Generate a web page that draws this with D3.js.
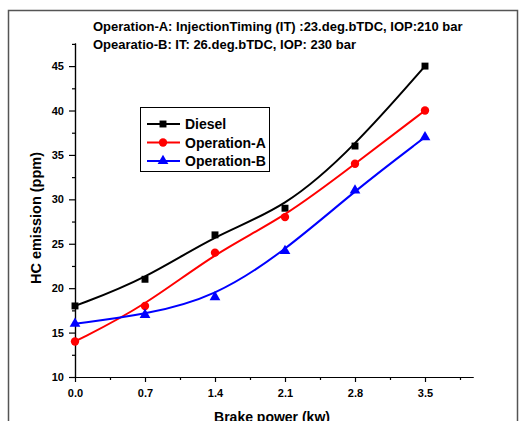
<!DOCTYPE html>
<html>
<head>
<meta charset="utf-8">
<script src="https://cdn.jsdelivr.net/npm/d3@7"></script>
<style>
  body { margin: 0; background: #fff; }
  svg { display: block; font-family: Arial, "Liberation Sans", sans-serif; }
  .axis text { font-size: 11px; font-weight: bold; fill: #000; font-family: Arial, "Liberation Sans", sans-serif; }
  .axis path, .axis line { stroke: #000; stroke-width: 1.2; }
</style>
</head>
<body>
<div class="svg-container"></div>
<script>
// data
const power = [0.0, 0.7, 1.4, 2.1, 2.8, 3.5];
const diesel = [18, 21, 26, 29, 36, 45];
const operationA = [14, 18, 24, 28, 34, 40];
const operationB = [16, 17, 19, 24.2, 31, 37];
const xTicks = [0.0, 0.7, 1.4, 2.1, 2.8, 3.5];
const yTicks = [10, 15, 20, 25, 30, 35, 40, 45];
const seriesNames = ["Diesel", "Operation-A", "Operation-B"];

const width = 520, height = 421;
const margin = {top: 43, right: 47, bottom: 44, left: 75};

const svg = d3.select('.svg-container')
    .append('svg')
    .attr('width', width)
    .attr('height', height);

// outer frame
svg.append('rect')
    .attr('x', 8.5).attr('y', 10.5)
    .attr('width', 509).attr('height', 420)
    .attr('fill', 'none')
    .attr('stroke', '#555')
    .attr('stroke-width', 1.5);

const x = d3.scaleLinear()
    .domain([0, 3.98])
    .range([margin.left, width - margin.right]);

const y = d3.scaleLinear()
    .domain([10, 47.6])
    .range([height - margin.bottom, margin.top]);

// x axis with minor ticks
svg.append('g')
    .attr('class', 'axis')
    .attr('transform', `translate(0,${y(10)})`)
    .call(d3.axisBottom(x).tickValues(d3.range(0.35, 3.99, 0.7)).tickSize(3).tickFormat('').tickSizeOuter(0));
svg.append('g')
    .attr('class', 'axis')
    .attr('transform', `translate(0,${y(10)})`)
    .call(d3.axisBottom(x).tickValues(xTicks).tickSize(5).tickPadding(7).tickFormat(d3.format('.1f')).tickSizeOuter(0));

// y axis with minor ticks
svg.append('g')
    .attr('class', 'axis')
    .attr('transform', `translate(${x(0)},0)`)
    .call(d3.axisLeft(y).tickValues(d3.range(12.5, 47.6, 5)).tickSize(3).tickFormat('').tickSizeOuter(0));
svg.append('g')
    .attr('class', 'axis')
    .attr('transform', `translate(${x(0)},0)`)
    .call(d3.axisLeft(y).tickValues(yTicks).tickSize(6).tickPadding(5).tickSizeOuter(0));

// axis titles
svg.append('text')
    .attr('x', 272)
    .attr('y', 422)
    .attr('text-anchor', 'middle')
    .style('font', 'bold 14px Arial, sans-serif')
    .text('Brake power (kw)');

svg.append('text')
    .attr('transform', 'translate(41,218) rotate(-90)')
    .attr('text-anchor', 'middle')
    .style('font', 'bold 14.5px Arial, sans-serif')
    .text('HC emission (ppm)');

// notes at the top
svg.append('text')
    .attr('x', 93).attr('y', 31)
    .style('font', 'bold 13px Arial, sans-serif')
    .text('Operation-A: InjectionTiming (IT) :23.deg.bTDC, IOP:210 bar');
svg.append('text')
    .attr('x', 93).attr('y', 49)
    .style('font', 'bold 13px Arial, sans-serif')
    .text('Opearatio-B: IT: 26.deg.bTDC, IOP: 230 bar');

const series = [
  {name: seriesNames[0], values: diesel, color: '#000', symbol: d3.symbolSquare, size: 48},
  {name: seriesNames[1], values: operationA, color: '#ff0000', symbol: d3.symbolCircle, size: 55},
  {name: seriesNames[2], values: operationB, color: '#0000ff', symbol: d3.symbolTriangle, size: 50}
];

const line = d3.line()
    .x(function(d) { return x(d[0]); })
    .y(function(d) { return y(d[1]); })
    .curve(d3.curveBasis);

series.forEach(function(s) {
  const pts = power.map(function(p, i) { return [p, s.values[i]]; });
  svg.append('path')
      .datum(pts)
      .attr('fill', 'none')
      .attr('stroke', s.color)
      .attr('stroke-width', 2)
      .attr('d', line);
  svg.selectAll(null)
      .data(pts)
      .enter().append('path')
      .attr('transform', function(d) { return `translate(${x(d[0])},${y(d[1])})`; })
      .attr('d', d3.symbol().type(s.symbol).size(s.size))
      .attr('fill', s.color);
});

// legend
const lg = svg.append('g').attr('transform', 'translate(140,107)');
lg.append('rect')
    .attr('x', 0.5).attr('y', 0.5)
    .attr('width', 129).attr('height', 64)
    .attr('fill', '#fff')
    .attr('stroke', '#000')
    .attr('stroke-width', 1);

const item = lg.selectAll('.legend')
    .data(series)
    .enter().append('g')
      .attr('class', 'legend')
      .attr('transform', function(d, i) { return `translate(0,${17 + i * 18.5})`; });

item.append('line')
    .attr('x1', 7).attr('x2', 40)
    .attr('stroke', function(d) { return d.color; })
    .attr('stroke-width', 2);
item.append('path')
    .attr('transform', 'translate(23,0)')
    .attr('d', function(d) { return d3.symbol().type(d.symbol).size(d.size)(); })
    .attr('fill', function(d) { return d.color; });
item.append('text')
    .attr('x', 45)
    .attr('dy', '0.36em')
    .style('font', 'bold 14px Arial, sans-serif')
    .text(function(d) { return d.name; });
</script>
</body>
</html>
